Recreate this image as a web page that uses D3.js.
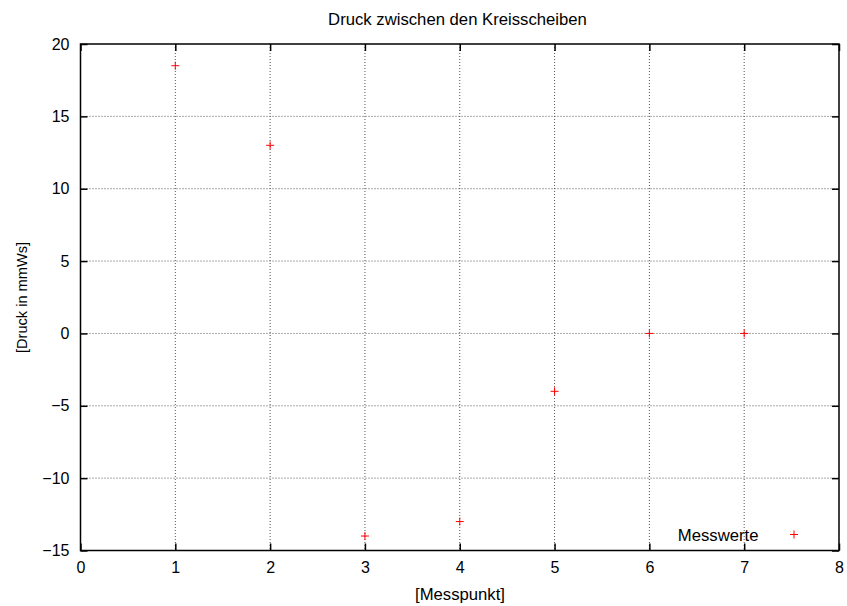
<!DOCTYPE html>
<html>
<head>
<meta charset="utf-8">
<script src="https://cdn.jsdelivr.net/npm/d3@7"></script>
<style>
  body { margin: 0; background: #fff; }
  svg { display: block; font-family: "Liberation Sans", Arial, sans-serif; }
</style>
</head>
<body>
<div id="container"></div>
<script>
/* DATA */
const messpunkt = [1, 2, 3, 4, 5, 6, 7];
const druck = [18.5, 13, -14, -13, -4, 0, 0];
const xTicks = [0, 1, 2, 3, 4, 5, 6, 7, 8];
const yTicks = [-15, -10, -5, 0, 5, 10, 15, 20];

/* CONSTANTS */
const width = 847;
const height = 606;
const plot = { left: 80.5, right: 839, top: 44, bottom: 550.5 };

const svg = d3.select("#container").append("svg")
  .attr("width", width)
  .attr("height", height);

const x = d3.scaleLinear().domain([0, 8]).range([plot.left, plot.right]);
const y = d3.scaleLinear().domain([-15, 20]).range([plot.bottom, plot.top]);

// grid lines (dotted)
const grid = svg.append("g").attr("class", "grid");
grid.selectAll(".gx")
  .data(xTicks.slice(1, -1))
  .enter().append("line")
  .attr("x1", d => x(d)).attr("x2", d => x(d))
  .attr("y1", plot.top).attr("y2", plot.bottom)
  .attr("stroke", "#555").attr("stroke-width", 1)
  .attr("stroke-dasharray", "1,2");
grid.selectAll(".gy")
  .data(yTicks.slice(1, -1))
  .enter().append("line")
  .attr("y1", d => y(d)).attr("y2", d => y(d))
  .attr("x1", plot.left).attr("x2", plot.right)
  .attr("stroke", "#555").attr("stroke-width", 1)
  .attr("stroke-dasharray", "1,2");

// axes with inward ticks, mirrored
const tickLen = 7;
svg.append("g")
  .attr("transform", `translate(0,${plot.bottom})`)
  .call(d3.axisBottom(x).tickValues(xTicks).tickSizeInner(-tickLen).tickSizeOuter(0).tickPadding(11))
  .call(g => g.select(".domain").remove());
svg.append("g")
  .attr("transform", `translate(0,${plot.top})`)
  .call(d3.axisTop(x).tickValues(xTicks).tickSizeInner(-tickLen).tickSizeOuter(0).tickFormat(""))
  .call(g => g.select(".domain").remove());
svg.append("g")
  .attr("transform", `translate(${plot.left},0)`)
  .call(d3.axisLeft(y).tickValues(yTicks).tickSizeInner(-tickLen).tickSizeOuter(0).tickPadding(11)
    .tickFormat(d => d < 0 ? "\u2212" + Math.abs(d) : d))
  .call(g => g.select(".domain").remove());
svg.append("g")
  .attr("transform", `translate(${plot.right},0)`)
  .call(d3.axisRight(y).tickValues(yTicks).tickSizeInner(-tickLen).tickSizeOuter(0).tickFormat(""))
  .call(g => g.select(".domain").remove());

svg.selectAll(".tick text")
  .attr("font-family", "Liberation Sans, Arial, sans-serif")
  .attr("font-size", 16)
  .attr("fill", "#000");
svg.selectAll(".tick line").attr("stroke", "#000").attr("stroke-width", 1.5);

// border
svg.append("rect")
  .attr("x", plot.left).attr("y", plot.top)
  .attr("width", plot.right - plot.left)
  .attr("height", plot.bottom - plot.top)
  .attr("fill", "none").attr("stroke", "#000").attr("stroke-width", 1.5);

// points as "+"
const plus = (g, cx, cy) => {
  g.append("line").attr("x1", cx - 4).attr("x2", cx + 4).attr("y1", cy).attr("y2", cy);
  g.append("line").attr("x1", cx).attr("x2", cx).attr("y1", cy - 4).attr("y2", cy + 4);
};
const pts = svg.append("g").attr("stroke", "red").attr("stroke-width", 1);
messpunkt.forEach((m, i) => plus(pts, x(m), y(druck[i])));

// legend
svg.append("text")
  .attr("x", 758.5).attr("y", 540.5)
  .attr("text-anchor", "end")
  .attr("font-size", 16.7)
  .text("Messwerte");
const leg = svg.append("g").attr("stroke", "red").attr("stroke-width", 1);
plus(leg, 794, 534.5);

// title + axis labels
svg.append("text")
  .attr("x", 457.5).attr("y", 25)
  .attr("text-anchor", "middle")
  .attr("font-size", 16.7)
  .text("Druck zwischen den Kreisscheiben");
svg.append("text")
  .attr("x", 460).attr("y", 599.5)
  .attr("text-anchor", "middle")
  .attr("font-size", 16.7)
  .text("[Messpunkt]");
svg.append("text")
  .attr("transform", `translate(27,297.5) rotate(-90)`)
  .attr("text-anchor", "middle")
  .attr("font-size", 14.6)
  .text("[Druck in mmWs]");
</script>
</body>
</html>
